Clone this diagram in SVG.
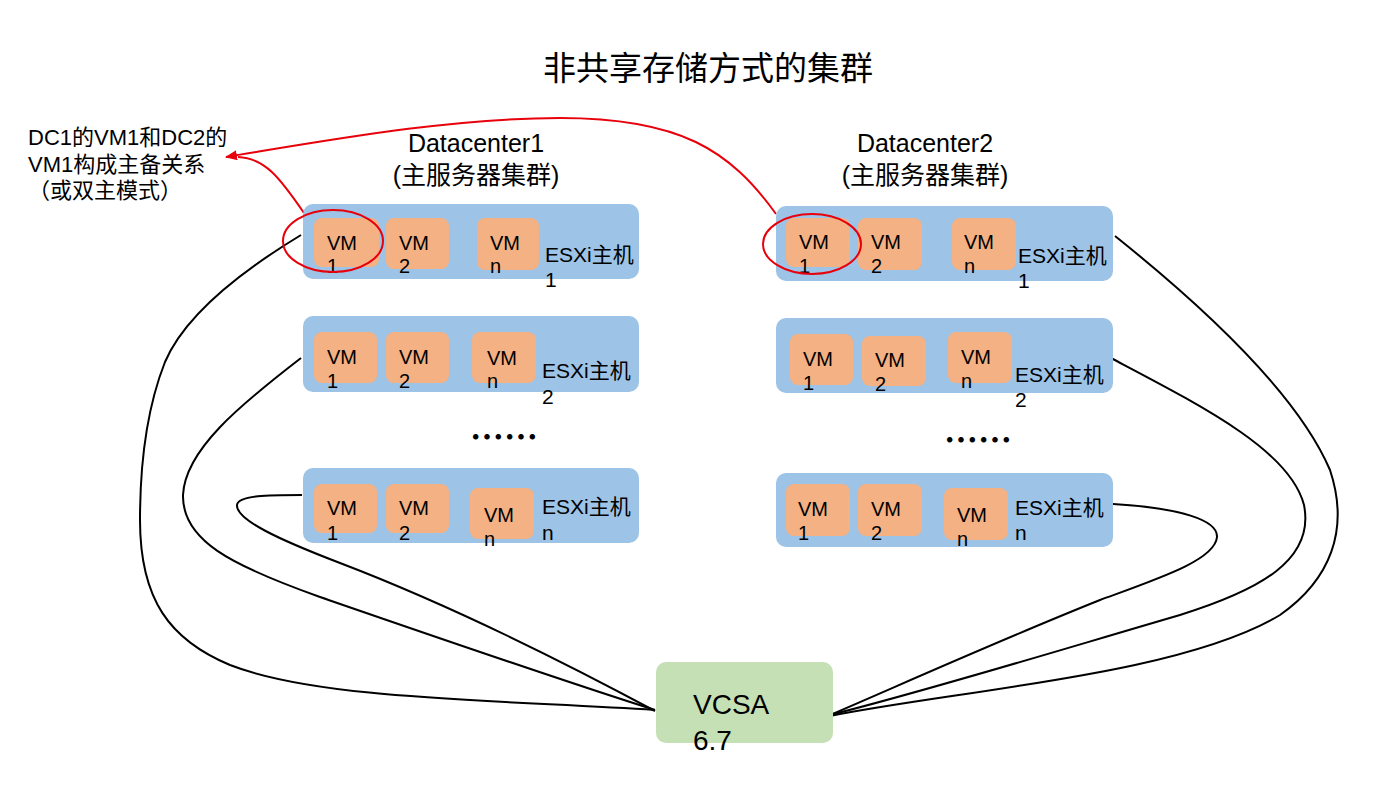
<svg xmlns="http://www.w3.org/2000/svg" width="1376" height="806" viewBox="0 0 1376 806">
<style>
text{font-family:"Liberation Sans","Noto Sans CJK SC",sans-serif;fill:#000}
.host{fill:#9DC3E6}
.vm{fill:#F4B183}
.vmt{font-size:20px}
.esx{font-size:21px}
.dc{font-size:25px}
.conn{fill:none;stroke:#000;stroke-width:2}
.red{fill:none;stroke:#E8000B;stroke-width:2}
.dots{font-family:"Noto Sans CJK SC",sans-serif;font-size:34px;font-weight:bold}
</style>
<defs>
<marker id="arr" markerWidth="12" markerHeight="10" refX="11" refY="5" orient="auto" markerUnits="userSpaceOnUse">
<path d="M0,0 L12,5 L0,10 Z" fill="#E8000B"/>
</marker>
</defs>
<rect width="1376" height="806" fill="#fff"/>
<text x="708" y="80" font-size="33" text-anchor="middle">非共享存储方式的集群</text>
<g id="label-dc1"><text class="dc" x="476" y="152" text-anchor="middle">Datacenter1</text><text class="dc" x="476" y="184" text-anchor="middle">(主服务器集群)</text></g>
<g id="label-dc2"><text class="dc" x="925" y="152" text-anchor="middle">Datacenter2</text><text class="dc" x="925" y="184" text-anchor="middle">(主服务器集群)</text></g>
<g id="note" font-size="22"><text x="28" y="145">DC1的VM1和DC2的</text><text x="28" y="172">VM1构成主备关系</text><text x="28" y="198">（或双主模式）</text></g>

<g id="connectors">
<path class="conn" d="M301,235 C240,272 185,315 165,362 C150,400 140,450 140,520 C140,600 170,640 230,665 C320,700 500,700 655,710"/>
<path class="conn" d="M301,358 C240,405 185,450 183,495 C182,540 230,565 320,597 C430,635 560,680 655,710"/>
<path class="conn" d="M302,495 C270,495 238,495 237,505 C236,520 280,540 340,563 C450,605 560,660 655,711"/>
<path class="conn" d="M1115,236 C1220,320 1300,400 1330,470 C1350,530 1330,580 1280,615 C1180,675 960,690 830,716"/>
<path class="conn" d="M1111,358 C1200,405 1290,450 1304,505 C1315,560 1260,590 1180,615 C1060,650 930,690 830,715"/>
<path class="conn" d="M1113,504 C1180,508 1218,520 1217,537 C1215,560 1160,578 1100,600 C1000,640 900,685 830,715"/>
<path class="red" d="M776,214 C730,150 680,118 560,118 C450,118 330,140 226,157" marker-end="url(#arr)"/>
<path class="red" d="M304,213 C280,178 265,158 238,157"/>
</g>

<g id="dc1-host1">
<rect class="host" x="303" y="204" width="336" height="75" rx="10"/>
<rect class="vm" x="314" y="218" width="65" height="49" rx="8"/>
<rect class="vm" x="386" y="218" width="63" height="51" rx="8"/>
<rect class="vm" x="477" y="218" width="62" height="52" rx="8"/>
<text class="vmt" x="327" y="250">VM<tspan x="327" y="273">1</tspan></text>
<text class="vmt" x="399" y="250">VM<tspan x="399" y="273">2</tspan></text>
<text class="vmt" x="490" y="250">VM<tspan x="490" y="273">n</tspan></text>
<text class="esx" x="545" y="262">ESXi主机<tspan x="545" y="287">1</tspan></text>
</g>
<g id="dc1-host2">
<rect class="host" x="303" y="316" width="336" height="76" rx="10"/>
<rect class="vm" x="314" y="332" width="63" height="51" rx="8"/>
<rect class="vm" x="386" y="332" width="63" height="51" rx="8"/>
<rect class="vm" x="472" y="332" width="64" height="51" rx="8"/>
<text class="vmt" x="327" y="364">VM<tspan x="327" y="388">1</tspan></text>
<text class="vmt" x="399" y="364">VM<tspan x="399" y="388">2</tspan></text>
<text class="vmt" x="487" y="365">VM<tspan x="487" y="388">n</tspan></text>
<text class="esx" x="542" y="378">ESXi主机<tspan x="542" y="404">2</tspan></text>
</g>
<text class="dots" x="470" y="450">……</text>
<g id="dc1-hostn">
<rect class="host" x="303" y="468" width="336" height="75" rx="10"/>
<rect class="vm" x="314" y="484" width="63" height="49" rx="8"/>
<rect class="vm" x="386" y="484" width="63" height="49" rx="8"/>
<rect class="vm" x="470" y="488" width="64" height="51" rx="8"/>
<text class="vmt" x="327" y="515">VM<tspan x="327" y="540">1</tspan></text>
<text class="vmt" x="399" y="515">VM<tspan x="399" y="540">2</tspan></text>
<text class="vmt" x="484" y="522">VM<tspan x="484" y="546">n</tspan></text>
<text class="esx" x="542" y="514">ESXi主机<tspan x="542" y="540">n</tspan></text>
</g>

<g id="dc2-host1">
<rect class="host" x="776" y="206" width="337" height="75" rx="10"/>
<rect class="vm" x="786" y="218" width="64" height="49" rx="8"/>
<rect class="vm" x="858" y="218" width="64" height="52" rx="8"/>
<rect class="vm" x="952" y="218" width="64" height="52" rx="8"/>
<text class="vmt" x="799" y="249">VM<tspan x="799" y="273">1</tspan></text>
<text class="vmt" x="871" y="249">VM<tspan x="871" y="273">2</tspan></text>
<text class="vmt" x="964" y="249">VM<tspan x="964" y="273">n</tspan></text>
<text class="esx" x="1018" y="263">ESXi主机<tspan x="1018" y="288">1</tspan></text>
</g>
<g id="dc2-host2">
<rect class="host" x="776" y="318" width="337" height="75" rx="10"/>
<rect class="vm" x="790" y="334" width="63" height="51" rx="8"/>
<rect class="vm" x="862" y="336" width="64" height="50" rx="8"/>
<rect class="vm" x="948" y="332" width="64" height="51" rx="8"/>
<text class="vmt" x="803" y="366">VM<tspan x="803" y="390">1</tspan></text>
<text class="vmt" x="875" y="367">VM<tspan x="875" y="391">2</tspan></text>
<text class="vmt" x="961" y="364">VM<tspan x="961" y="388">n</tspan></text>
<text class="esx" x="1015" y="382">ESXi主机<tspan x="1015" y="407">2</tspan></text>
</g>
<text class="dots" x="944" y="453">……</text>
<g id="dc2-hostn">
<rect class="host" x="776" y="473" width="337" height="74" rx="10"/>
<rect class="vm" x="786" y="484" width="64" height="52" rx="8"/>
<rect class="vm" x="858" y="484" width="64" height="52" rx="8"/>
<rect class="vm" x="944" y="488" width="64" height="52" rx="8"/>
<text class="vmt" x="798" y="516">VM<tspan x="798" y="540">1</tspan></text>
<text class="vmt" x="871" y="516">VM<tspan x="871" y="540">2</tspan></text>
<text class="vmt" x="957" y="522">VM<tspan x="957" y="546">n</tspan></text>
<text class="esx" x="1015" y="515">ESXi主机<tspan x="1015" y="540">n</tspan></text>
</g>

<g id="vcsa">
<rect x="656" y="662" width="177" height="81" rx="10" fill="#C5E0B4"/>
<text x="693" y="714" font-size="28">VCSA<tspan x="693" y="750">6.7</tspan></text>
</g>

<g id="highlights">
<ellipse class="red" cx="333" cy="241" rx="50" ry="31"/>
<ellipse class="red" cx="812" cy="244" rx="49" ry="30"/>
</g>
</svg>
